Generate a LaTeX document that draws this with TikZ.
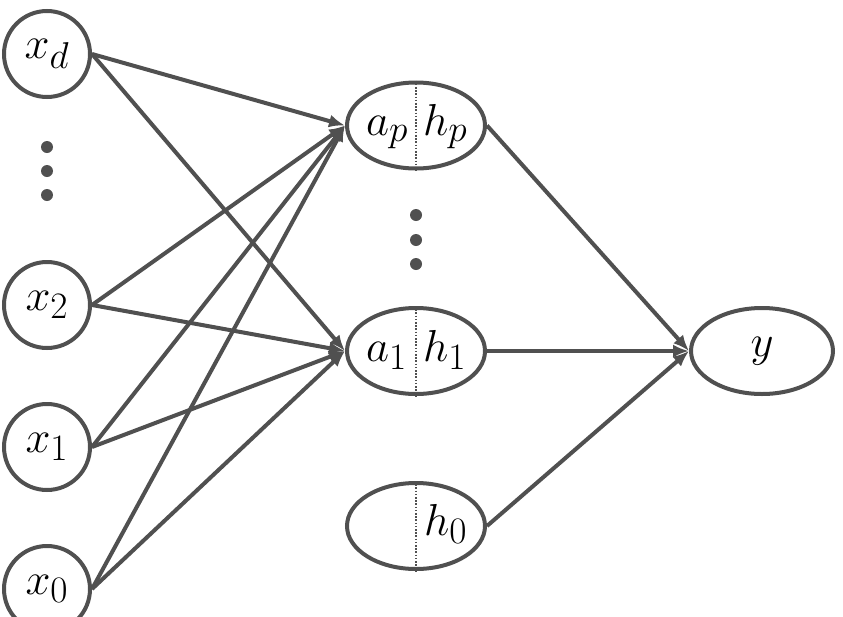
\documentclass[tikz,border=0pt]{standalone}
\usepackage{graphicx}
\usetikzlibrary{arrows.meta,shapes.geometric}
\definecolor{ink}{RGB}{80,80,80}
\newcommand{\biglbl}[1]{\scalebox{1.8}{\Huge$#1$}}
\begin{document}
\begin{tikzpicture}[x=1pt,y=-1pt,
  unit/.style={circle,draw=ink,line width=4pt,minimum size=86pt,inner sep=0pt},
  oval/.style={ellipse,draw=ink,line width=4pt,minimum width=138pt,minimum height=86pt,inner sep=0pt},
  conn/.style={draw=ink,line width=4pt,-{Latex[length=16pt,width=13pt]}},
  split/.style={draw=ink,line width=1.8pt,dash pattern=on 1.6pt off 1.6pt},
  dotmark/.style={circle,fill=ink,minimum size=12pt,inner sep=0pt}]
\useasboundingbox (0,0) rectangle (843,616);
% input units
\node[unit] (xd) at (47,54) {\biglbl{x_d}};
\node[unit] (x2) at (47,305) {\biglbl{x_2}};
\node[unit] (x1) at (47,447) {\biglbl{x_1}};
\node[unit] (x0) at (47,589) {\biglbl{x_0}};
\node[dotmark] (d1) at (47,147) {};
\node[dotmark] (d2) at (47,171) {};
\node[dotmark] (d3) at (47,195) {};
% hidden units
\node[oval] (ap) at (416,125.5) {};
\node[oval] (a1) at (416,351) {};
\node[oval] (h0) at (416,526) {};
\draw[split] (ap.north) -- (ap.south);
\draw[split] (a1.north) -- (a1.south);
\draw[split] (h0.north) -- (h0.south);
\node[anchor=base west,inner sep=0pt] (lap) at (366,135) {\biglbl{a_p}};
\node[anchor=base west,inner sep=0pt] (lhp) at (423,135) {\biglbl{h_p}};
\node[anchor=base west,inner sep=0pt] (la1) at (366,361) {\biglbl{a_1}};
\node[anchor=base west,inner sep=0pt] (lh1) at (423,361) {\biglbl{h_1}};
\node[anchor=base west,inner sep=0pt] (lh0) at (424,535) {\biglbl{h_0}};
\node[dotmark] (m1) at (416,215) {};
\node[dotmark] (m2) at (416,240) {};
\node[dotmark] (m3) at (416,264) {};
% output
\node[ellipse,draw=ink,line width=4pt,minimum width=142pt,minimum height=86pt,inner sep=0pt] (y) at (762,351) {\biglbl{y}};
% connections
\foreach \s in {xd,x2,x1,x0}{
  \draw[conn] (\s.east) -- (ap.west);
  \draw[conn] (\s.east) -- (a1.west);
}
\draw[conn] (ap.east) -- (y.west);
\draw[conn] (a1.east) -- (y.west);
\draw[conn] (h0.east) -- (y.west);
\end{tikzpicture}
\end{document}
